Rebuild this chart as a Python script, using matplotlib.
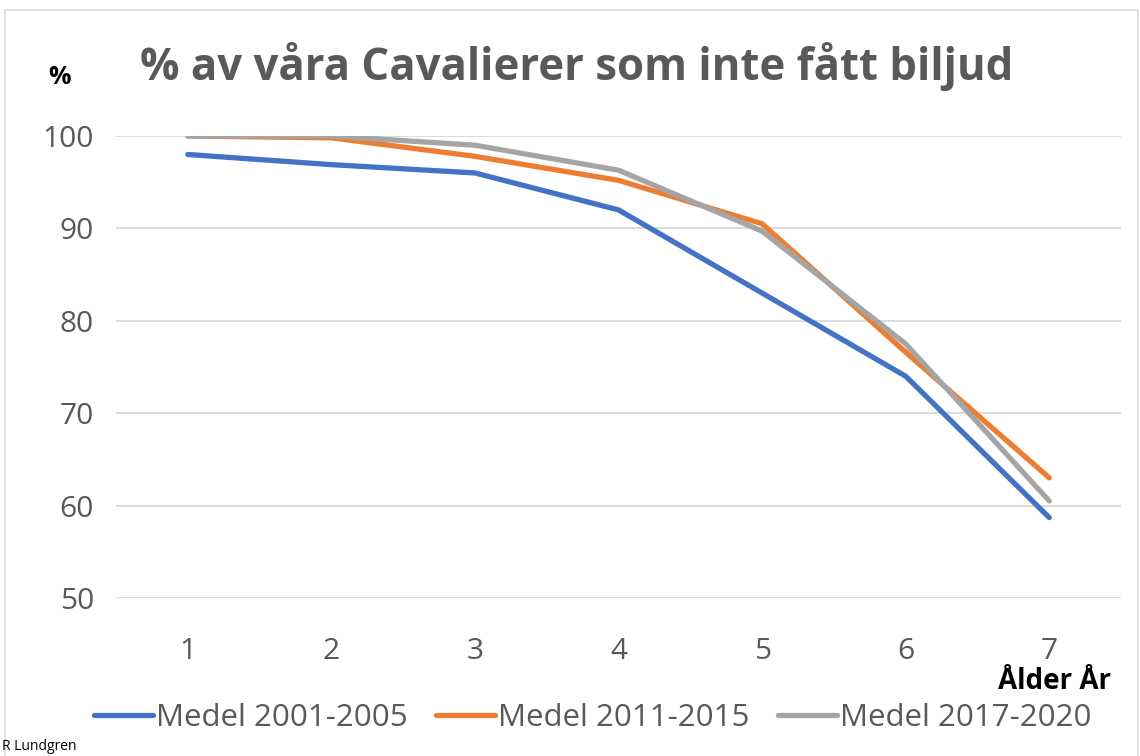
import matplotlib.pyplot as plt
from matplotlib.patches import Rectangle

# Data
ages = [1, 2, 3, 4, 5, 6, 7]
medel_2001_2005 = [98.0, 96.9, 96.0, 92.0, 83.0, 74.0, 58.7]
medel_2011_2015 = [100.0, 99.8, 97.8, 95.2, 90.5, 76.6, 63.0]
medel_2017_2020 = [100.0, 100.0, 99.0, 96.3, 89.7, 77.5, 60.5]
series_names = ['Medel 2001-2005', 'Medel 2011-2015', 'Medel 2017-2020']
colors = ['#4472c4', '#ed7d31', '#a5a5a5']
yticks = [50, 60, 70, 80, 90, 100]

plt.rcParams['font.family'] = ['Open Sans', 'DejaVu Sans']

fig = plt.figure(figsize=(11.4, 7.56), dpi=100)
ax = fig.add_axes([0.1018, 0.2090, 0.8816, 0.6111])

for vals, name, c in zip([medel_2001_2005, medel_2011_2015, medel_2017_2020], series_names, colors):
    ax.plot(ages, vals, color=c, lw=3.8, label=name, solid_capstyle='round', solid_joinstyle='round')

ax.set_xlim(0.5, 7.5)
ax.set_ylim(50, 100)
ax.set_yticks(yticks)
ax.set_xticks(ages)
ax.grid(axis='y', color='#d9d9d9', lw=1.3)
ax.set_axisbelow(True)
for s in ax.spines.values():
    s.set_visible(False)
ax.tick_params(length=0, labelsize=21.5, labelcolor='#595959')
ax.tick_params(axis='y', pad=16)
ax.tick_params(axis='x', pad=28)

# chart border
fig.patches.append(Rectangle((0.004, -0.01), 0.994, 0.997, transform=fig.transFigure,
                             fill=False, edgecolor='#d9d9d9', lw=1.2))

fig.text(0.506, 0.912, '% av våra Cavalierer som inte fått biljud', ha='center', va='center',
         fontsize=31.5, fontweight='bold', color='#595959')
fig.text(0.042, 0.897, '%', ha='left', va='center', fontsize=18, fontweight='bold', color='black')
fig.text(0.975, 0.099, 'Ålder År', ha='right', va='center', fontsize=20, fontweight='bold', color='black')
fig.text(0.002, 0.013, 'R Lundgren', ha='left', va='center', fontsize=10, color='black')

fig.legend(loc='center', bbox_to_anchor=(0.52, 0.050), ncol=3, frameon=False, fontsize=22.5,
           handlelength=1.9, handletextpad=0.1, columnspacing=0.9,
           labelcolor='#595959')

fig.savefig('out.png', dpi=100)
